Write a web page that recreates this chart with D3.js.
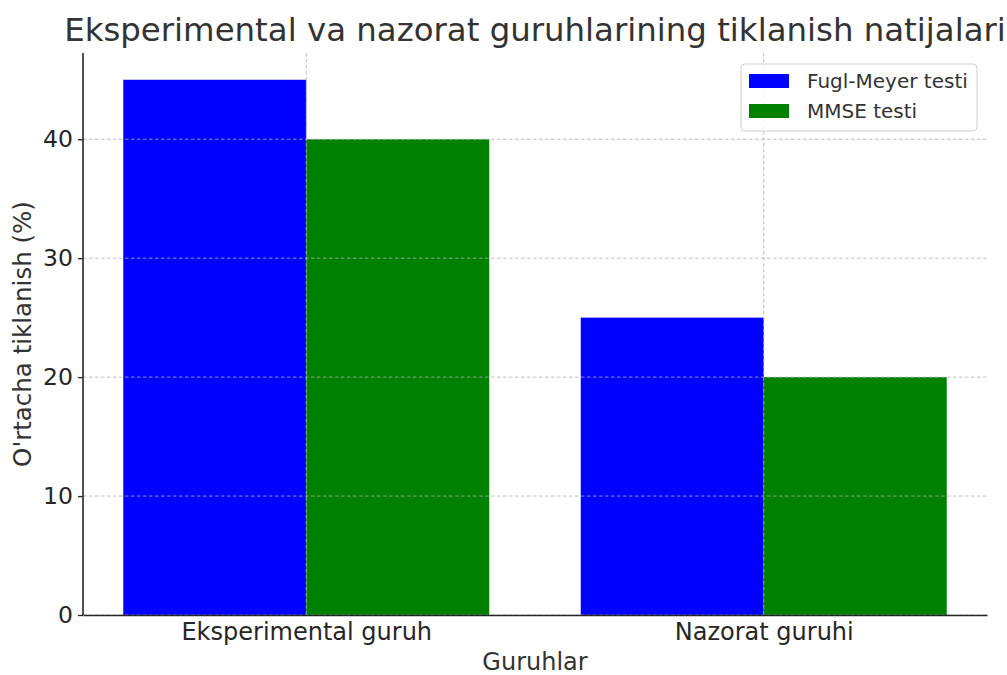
<!DOCTYPE html>
<html>
<head>
<meta charset="utf-8">
<script src="https://cdn.jsdelivr.net/npm/d3@7/dist/d3.min.js"></script>
<style>
  html, body { margin: 0; padding: 0; background: #fff; }
  svg { display: block; font-family: 'DejaVu Sans', sans-serif; }
</style>
</head>
<body>
<div id="chart"></div>
<script>
// Chart data
const groups = ['Eksperimental guruh', 'Nazorat guruhi']
const seriesNames = ['Fugl-Meyer testi', 'MMSE testi']
const fuglMeyer = [45, 25]
const mmse = [40, 20]
const yTicks = [0, 10, 20, 30, 40]
const colors = ['#0000ff', '#008000']

const W = 1007, H = 675
const margin = { left: 83, right: 20, top: 53, bottom: 60 }

const svg = d3.select('#chart')
  .append('svg')
  .attr('width', W)
  .attr('height', H)

// Scales
const x = d3.scaleLinear()
  .domain([-0.488, 1.488])
  .range([margin.left, W - margin.right])

const y = d3.scaleLinear()
  .domain([0, 47.25])
  .range([H - margin.bottom, margin.top])

const barW = 0.4
const series = [fuglMeyer, mmse]

// Bars
series.forEach((vals, si) => {
  svg.append('g')
    .selectAll('rect')
    .data(vals)
    .join('rect')
    .attr('x', (d, i) => x(i - barW + si * barW))
    .attr('y', d => y(d))
    .attr('width', x(barW) - x(0))
    .attr('height', d => y(0) - y(d))
    .attr('fill', colors[si])
})

// Grid (drawn over bars)
const grid = svg.append('g')
  .attr('stroke', '#b0b0b0')
  .attr('stroke-opacity', 0.8)
  .attr('stroke-width', 1)
  .attr('stroke-dasharray', '3.5,2.5')

grid.selectAll('.hgrid')
  .data(yTicks)
  .join('line')
  .attr('x1', margin.left)
  .attr('x2', W - margin.right)
  .attr('y1', d => y(d))
  .attr('y2', d => y(d))

grid.selectAll('.vgrid')
  .data(groups)
  .join('line')
  .attr('x1', (d, i) => x(i))
  .attr('x2', (d, i) => x(i))
  .attr('y1', margin.top)
  .attr('y2', H - margin.bottom)

// Axes
const yAxis = d3.axisLeft(y)
  .tickValues(yTicks)
  .tickSize(5)
  .tickPadding(5)

const gy = svg.append('g')
  .attr('transform', `translate(${margin.left},0)`)
  .call(yAxis)
gy.select('.domain').attr('stroke', '#262626').attr('stroke-width', 1.6).attr('d', `M0,${margin.top}V${H - margin.bottom}`)
gy.selectAll('.tick line').attr('stroke', '#262626').attr('stroke-width', 1.3)
gy.selectAll('.tick text').attr('fill', '#262626').attr('font-size', 23.5).attr('font-family', 'DejaVu Sans')

const xAxis = d3.axisBottom(x)
  .tickValues([0, 1])
  .tickFormat(i => groups[i])
  .tickSize(0)
  .tickPadding(8)

const gx = svg.append('g')
  .attr('transform', `translate(0,${H - margin.bottom})`)
  .call(xAxis)
gx.select('.domain').attr('stroke', '#262626').attr('stroke-width', 1.6)
gx.selectAll('.tick text').attr('fill', '#262626').attr('font-size', 24).attr('font-family', 'DejaVu Sans')

// Title and axis labels
svg.append('text')
  .attr('x', (margin.left + W - margin.right) / 2)
  .attr('y', 41)
  .attr('text-anchor', 'middle')
  .attr('font-size', 32.4)
  .attr('fill', '#333')
  .text('Eksperimental va nazorat guruhlarining tiklanish natijalari')

svg.append('text')
  .attr('x', (margin.left + W - margin.right) / 2)
  .attr('y', 670)
  .attr('text-anchor', 'middle')
  .attr('font-size', 24)
  .attr('fill', '#333')
  .text('Guruhlar')

svg.append('text')
  .attr('transform', `translate(31,${(margin.top + H - margin.bottom) / 2}) rotate(-90)`)
  .attr('text-anchor', 'middle')
  .attr('font-size', 24.5)
  .attr('fill', '#333')
  .text("O'rtacha tiklanish (%)")

// Legend
const legend = svg.append('g').attr('transform', 'translate(741,64)')
legend.append('rect')
  .attr('width', 236)
  .attr('height', 67)
  .attr('rx', 4)
  .attr('fill', '#fff')
  .attr('fill-opacity', 0.8)
  .attr('stroke', '#d0d0d0')

const items = legend.selectAll('.item')
  .data(seriesNames)
  .join('g')
  .attr('transform', (d, i) => `translate(8,${10 + i * 30})`)
items.append('rect')
  .attr('width', 40)
  .attr('height', 14)
  .attr('fill', (d, i) => colors[i])
items.append('text')
  .attr('x', 58)
  .attr('y', 14)
  .attr('font-size', 20)
  .attr('fill', '#333')
  .text(d => d)
</script>
</body>
</html>
